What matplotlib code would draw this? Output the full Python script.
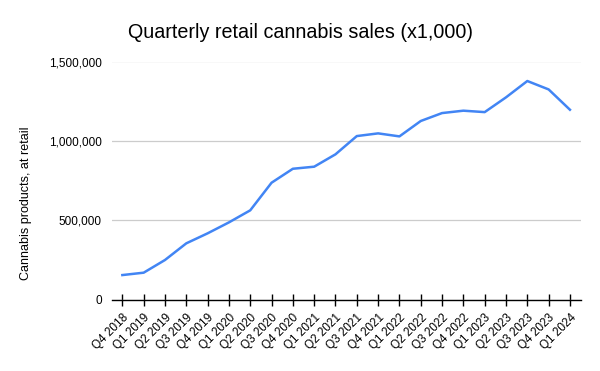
import matplotlib.pyplot as plt
from matplotlib.ticker import FuncFormatter

plt.rcParams['font.family'] = ['Liberation Sans', 'DejaVu Sans']

quarters = ['Q4 2018', 'Q1 2019', 'Q2 2019', 'Q3 2019', 'Q4 2019',
            'Q1 2020', 'Q2 2020', 'Q3 2020', 'Q4 2020',
            'Q1 2021', 'Q2 2021', 'Q3 2021', 'Q4 2021',
            'Q1 2022', 'Q2 2022', 'Q3 2022', 'Q4 2022',
            'Q1 2023', 'Q2 2023', 'Q3 2023', 'Q4 2023', 'Q1 2024']
sales = [154000, 169000, 249000, 354000, 417000,
         486000, 562000, 736000, 824000,
         837000, 915000, 1030000, 1047000,
         1028000, 1125000, 1175000, 1190000,
         1181000, 1274000, 1377000, 1324000, 1196000]
yticks = [0, 500000, 1000000, 1500000]

fig = plt.figure(figsize=(6, 3.71), dpi=100)
ax = fig.add_axes([111.7/600, 1-299.5/371, (580.6-111.7)/600, (299.5-61.5)/371])

x = range(len(quarters))
ax.plot(x, sales, color='#4285F4', lw=1.8, solid_joinstyle='round', zorder=3)

ax.set_xlim(-0.5, len(quarters)-0.5)
ax.set_ylim(0, 1500000)
ax.set_yticks(yticks)
ax.yaxis.set_major_formatter(FuncFormatter(lambda v, p: f'{int(v):,}'))
ax.grid(axis='y', color='#cccccc', lw=0.9)
ax.set_axisbelow(True)
for s in ['top', 'right', 'left']:
    ax.spines[s].set_visible(False)
ax.spines['bottom'].set_color('black')
ax.spines['bottom'].set_linewidth(1)
ax.spines['bottom'].set_zorder(4)

ax.set_xticks(list(x))
ax.set_xticklabels(quarters, rotation=45, ha='right', rotation_mode='anchor', fontsize=8.5)
ax.tick_params(axis='x', direction='inout', length=9, width=1, color='black', pad=4)
ax.tick_params(axis='y', length=0, labelsize=8.5, pad=7)

# y label sits lower than the axes centre in the original
fig.text(26/600, 1-203/371, 'Cannabis products, at retail', rotation=90,
         ha='center', va='center', fontsize=9)
fig.text(0.5, 1-32/371, 'Quarterly retail cannabis sales (x1,000)', ha='center', va='center', fontsize=14.2)

fig.savefig('out.png', dpi=100)
